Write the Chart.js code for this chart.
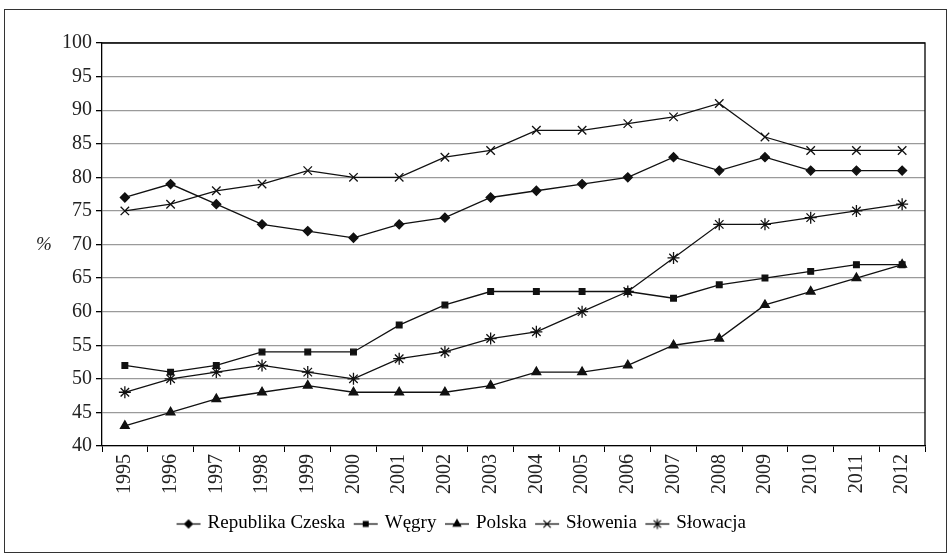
<!DOCTYPE html>
<html><head><meta charset="utf-8">
<script src="https://cdn.jsdelivr.net/npm/chart.js@4.4.1/dist/chart.umd.min.js"></script>
<style>html,body{margin:0;padding:0;background:#fff}#wrap{width:949px;height:559px;position:relative}</style>
</head><body><div id="wrap"><canvas id="c" width="949" height="559"></canvas></div>
<script>
const years = ['1995','1996','1997','1998','1999','2000','2001','2002','2003','2004','2005','2006','2007','2008','2009','2010','2011','2012'];
const czech    = [77,79,76,73,72,71,73,74,77,78,79,80,83,81,83,81,81,81];
const wegry    = [52,51,52,54,54,54,58,61,63,63,63,63,62,64,65,66,67,67];
const polska   = [43,45,47,48,49,48,48,48,49,51,51,52,55,56,61,63,65,67];
const slowenia = [75,76,78,79,81,80,80,83,84,87,87,88,89,91,86,84,84,84];
const slowacja = [48,50,51,52,51,50,53,54,56,57,60,63,68,73,73,74,75,76];
const seriesNames = ['Republika Czeska','Węgry','Polska','Słowenia','Słowacja'];
const yMin = 40, yMax = 100, yStep = 5;

const FONT = "'Liberation Serif', 'DejaVu Serif', serif";
const styles = [
  {ps:'rectRot', r:4.5},
  {ps:'rect', r:4},
  {ps:'triangle', r:5},
  {ps:'crossRot', r:6},
  {ps:'star', r:6}
];
const seriesData = [czech, wegry, polska, slowenia, slowacja];

function legendIcon(i){
  const cv = document.createElement('canvas');
  cv.width = 26; cv.height = 14;
  const ctx = cv.getContext('2d');
  ctx.strokeStyle = '#000'; ctx.fillStyle = '#000'; ctx.lineWidth = 1.2;
  ctx.beginPath(); ctx.moveTo(1,7.5); ctx.lineTo(25,7.5); ctx.stroke();
  Chart.helpers.drawPoint(ctx, {pointStyle: styles[i].ps, radius: styles[i].r*0.85, borderWidth:1.2, rotation:0}, 13, 7.5);
  if (styles[i].ps==='rect'||styles[i].ps==='rectRot'||styles[i].ps==='triangle') ctx.fill();
  return cv;
}

const framePlugin = {
  id:'frame',
  beforeDraw(chart){
    const ctx = chart.ctx;
    ctx.save();
    ctx.strokeStyle = '#333'; ctx.lineWidth = 1;
    ctx.strokeRect(4.5, 9.5, 942, 543);
    ctx.restore();
  },
  afterDraw(chart){
    const ctx = chart.ctx, y = chart.scales.y;
    ctx.save();
    ctx.fillStyle = '#222';
    ctx.font = "italic 19px " + FONT;
    ctx.textAlign = 'center'; ctx.textBaseline = 'middle';
    ctx.fillText('%', 44, y.getPixelForValue(70));
    ctx.restore();
  }
};

new Chart(document.getElementById('c'), {
  type:'line',
  data:{
    labels: years,
    datasets: seriesData.map((d,i)=>({
      label: seriesNames[i],
      data: d,
      borderColor:'#111',
      backgroundColor:'#111',
      borderWidth:1.3,
      pointStyle: styles[i].ps,
      pointRadius: styles[i].r,
      pointBorderWidth: 1.3,
      pointBorderColor:'#111',
      pointBackgroundColor:'#111',
      tension:0
    }))
  },
  options:{
    responsive:false,
    animation:false,
    layout:{padding:{left:0, right:24, top:43, bottom:16}},
    plugins:{
      legend:{
        position:'bottom',
        labels:{
          usePointStyle:true,
          font:{family:FONT, size:19},
          color:'#222',
          padding:11,
          generateLabels(chart){
            return chart.data.datasets.map((ds,i)=>({
              text: ds.label, pointStyle: legendIcon(i), fillStyle:'#000', strokeStyle:'#000', lineWidth:0, datasetIndex:i, hidden:false
            }));
          }
        }
      },
      tooltip:{enabled:false}
    },
    scales:{
      x:{
        offset:true,
        grid:{offset:true, drawOnChartArea:false, drawTicks:true, tickLength:6, color:'#000'},
        border:{color:'#000', width:1.3},
        ticks:{font:{family:FONT, size:20}, color:'#222', maxRotation:90, minRotation:90, autoSkip:false, padding:2},
        afterFit(s){ s.height = 57; }
      },
      y:{
        min:yMin, max:yMax,
        ticks:{stepSize:yStep, font:{family:FONT, size:20}, color:'#222', padding:4},
        grid:{color:'#9a9a9a', lineWidth:1.3, tickLength:6, tickColor:'#000'},
        border:{color:'#000', width:1.3},
        afterFit(s){ s.width = 102; }
      }
    }
  },
  plugins:[framePlugin, {
    id:'topRight',
    afterDatasetsDraw(chart){
      const a = chart.chartArea, ctx = chart.ctx;
      ctx.save(); ctx.strokeStyle='#000'; ctx.lineWidth=1.3;
      ctx.beginPath(); ctx.moveTo(a.left, a.top); ctx.lineTo(a.right, a.top); ctx.lineTo(a.right, a.bottom); ctx.stroke();
      ctx.restore();
    }
  }]
});
</script></body></html>
